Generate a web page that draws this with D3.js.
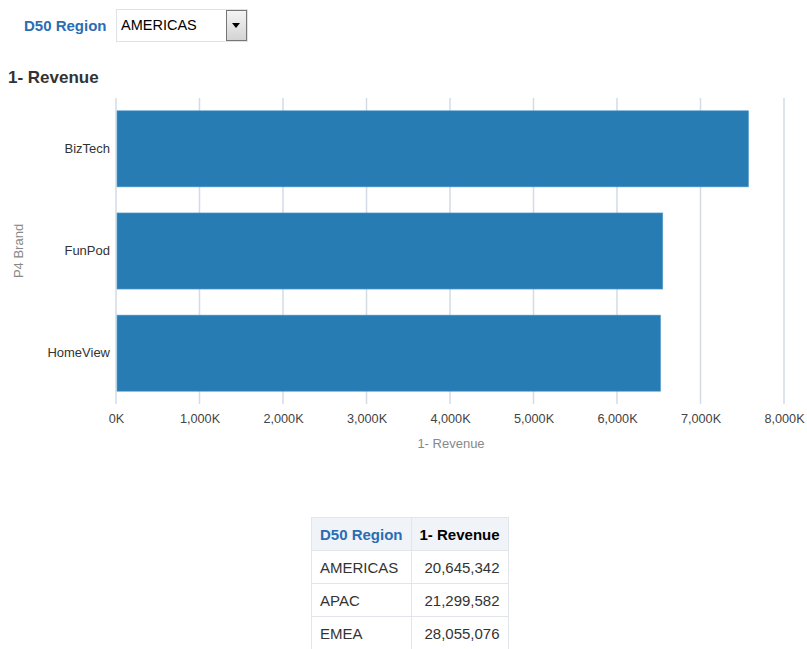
<!DOCTYPE html>
<html>
<head>
<meta charset="utf-8">
<script src="https://cdn.jsdelivr.net/npm/d3@7"></script>
<style>
  body { margin: 0; font-family: "Liberation Sans", Arial, sans-serif; background: #fff; }
  #prompt { position: absolute; left: 24px; top: 9px; height: 34px; }
  #prompt .lbl { position: absolute; left: 0; top: 8px; color: #2a6db5; font-weight: bold; font-size: 15px; white-space: nowrap; }
  #prompt .sel { position: absolute; left: 92px; top: 0; width: 130px; height: 31px; border: 1px solid #dfe3e8; background: #fff; }
  #prompt .sel span { position: absolute; left: 4px; top: 7px; font-size: 14.5px; color: #000; }
  #prompt .btn { position: absolute; right: 0px; top: 0px; width: 19px; height: 29px; border: 1px solid #767676;
    background: linear-gradient(#f4f4f4, #d4d4d4); }
  #prompt .btn:after { content: ""; position: absolute; left: 5px; top: 12px; border-left: 4px solid transparent;
    border-right: 4px solid transparent; border-top: 5px solid #000; }
  #chart { position: absolute; left: 0; top: 60px; }
  table { position: absolute; left: 311px; top: 517px; border-collapse: collapse; font-size: 15px; }
  td, th { border: 1px solid #e2e6eb; height: 33px; padding: 0 8px; text-align: left; white-space: nowrap; box-sizing: border-box; }
  th { background: #f0f3f7; font-weight: bold; }
  th.rg { color: #2a6db5; width: 98px; }
  th.rv { color: #000; width: 96px; }
  td { color: #333; }
  td.num { text-align: right; }
</style>
</head>
<body>
<div id="prompt">
  <div class="lbl">D50 Region</div>
  <div class="sel"><span>AMERICAS</span><div class="btn"></div></div>
</div>
<div id="chart"></div>
<table id="tbl"></table>
<script>
// chart data
const brands = ["BizTech", "FunPod", "HomeView"];
const revenue = [7575000, 6548000, 6522000];
const xTicks = [0, 1000000, 2000000, 3000000, 4000000, 5000000, 6000000, 7000000, 8000000];

// table data
const regions = ["AMERICAS", "APAC", "EMEA"];
const regionRevenue = [20645342, 21299582, 28055076];

const W = 807, H = 400;
const margin = {top: 38, left: 116};

const svg = d3.select("#chart").append("svg")
    .attr("width", W)
    .attr("height", H)
    .style("font-family", "'Liberation Sans', Arial, sans-serif");

// title
svg.append("text")
    .attr("x", 8)
    .attr("y", 23)
    .attr("font-size", 17)
    .attr("font-weight", "bold")
    .attr("fill", "#333")
    .text("1- Revenue");

const g = svg.append("g")
    .attr("transform", `translate(${margin.left},${margin.top})`);

const x = d3.scaleLinear().domain([0, 8000000]).range([0, 668]);
const y = d3.scaleBand().domain(brands).range([0, 306]).paddingInner(0.255).paddingOuter(0.125);

// gridlines
g.selectAll(".grid")
    .data(xTicks)
    .enter().append("line")
    .attr("class", "grid")
    .attr("x1", d => x(d)).attr("x2", d => x(d))
    .attr("y1", 0).attr("y2", 306)
    .attr("stroke", "#d3dbe5")
    .attr("stroke-width", 1.5);

// bars
g.selectAll(".bar")
    .data(brands)
    .enter().append("rect")
    .attr("class", "bar")
    .attr("x", x(0) + 1)
    .attr("y", d => y(d))
    .attr("width", (d, i) => x(revenue[i]) - x(0) - 1)
    .attr("height", y.bandwidth())
    .attr("fill", "#277cb4")
    .attr("stroke", "#5a9fd0")
    .attr("stroke-width", 0.6);

// x axis
const xAxis = g.append("g")
    .attr("transform", `translate(0,306)`)
    .call(d3.axisBottom(x).tickValues(xTicks).tickSize(0).tickPadding(10)
        .tickFormat(d => d3.format(",")(d / 1000) + "K"));
xAxis.select(".domain").remove();
xAxis.selectAll("text").attr("font-size", 12.7).attr("fill", "#444").attr("font-family", null);

// y axis
const yAxis = g.append("g")
    .call(d3.axisLeft(y).tickSize(0).tickPadding(6));
yAxis.select(".domain").remove();
yAxis.selectAll("text").attr("font-size", 13).attr("fill", "#333").attr("font-family", null);

// axis titles
svg.append("text")
    .attr("x", margin.left + 335)
    .attr("y", 388)
    .attr("text-anchor", "middle")
    .attr("font-size", 13)
    .attr("fill", "#888")
    .text("1- Revenue");

svg.append("text")
    .attr("transform", `translate(23,${margin.top + 153}) rotate(-90)`)
    .attr("text-anchor", "middle")
    .attr("font-size", 13)
    .attr("fill", "#888")
    .text("P4 Brand");

// table
const tbl = d3.select("#tbl");
const hr = tbl.append("tr");
hr.append("th").attr("class", "rg").text("D50 Region");
hr.append("th").attr("class", "rv").text("1- Revenue");
regions.forEach((r, i) => {
    const tr = tbl.append("tr");
    tr.append("td").text(r);
    tr.append("td").attr("class", "num").text(d3.format(",")(regionRevenue[i]));
});
</script>
</body>
</html>
